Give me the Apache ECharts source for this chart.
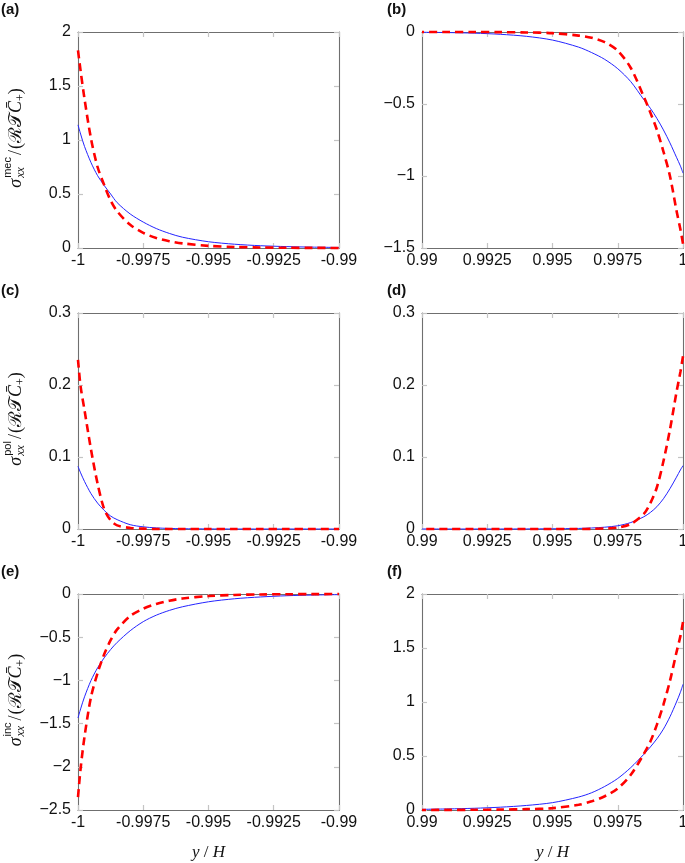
<!DOCTYPE html>
<html><head><meta charset="utf-8">
<script src="https://cdn.jsdelivr.net/npm/echarts@6/dist/echarts.min.js"></script>
<style>html,body{margin:0;padding:0;background:#fff}#c{width:685px;height:863px}</style>
</head><body><div id="c"></div>
<script>
// x positions (y/H) near each wall
const xLeft  = [-1, -0.9999, -0.99975, -0.9995, -0.99925, -0.999, -0.99875, -0.9985, -0.998, -0.9975, -0.997, -0.9965, -0.996, -0.995, -0.994, -0.993, -0.992, -0.991, -0.99];
const xRight = [1, 0.9999, 0.99975, 0.9995, 0.99925, 0.999, 0.99875, 0.9985, 0.998, 0.9975, 0.997, 0.9965, 0.996, 0.995, 0.994, 0.993, 0.992, 0.991, 0.99];

// (a) sigma_xx^mec, lower wall
const aBlue = [1.14, 1.055, 0.94, 0.79, 0.67, 0.58, 0.50, 0.42, 0.315, 0.24, 0.18, 0.135, 0.1, 0.058, 0.035, 0.021, 0.013, 0.008, 0.005];
const aRed  = [1.83, 1.64, 1.38, 1.01, 0.75, 0.585, 0.44, 0.34, 0.215, 0.14, 0.093, 0.063, 0.043, 0.02, 0.0095, 0.0045, 0.0022, 0.0011, 0.0005];
// (b) sigma_xx^mec, upper wall
const bBlue = [-0.98, -0.93, -0.87, -0.77, -0.68, -0.60, -0.53, -0.47, -0.345, -0.255, -0.19, -0.143, -0.105, -0.056, -0.03, -0.016, -0.008, -0.004, -0.002];
const bRed  = [-1.47, -1.37, -1.24, -1.0, -0.83, -0.68, -0.56, -0.45, -0.25, -0.13, -0.07, -0.04, -0.025, -0.008, -0.003, -0.001, 0, 0, 0];
// (c) sigma_xx^pol, lower wall
const cBlue = [0.087, 0.078, 0.066, 0.049, 0.036, 0.026, 0.018, 0.013, 0.006, 0.003, 0.0015, 0.0008, 0.0004, 0.0001, 0, 0, 0, 0, 0];
const cRed  = [0.235, 0.198, 0.165, 0.11, 0.063, 0.028, 0.012, 0.005, 0.0015, 0.0005, 0, 0, 0, 0, 0, 0, 0, 0, 0];
// (d) sigma_xx^pol, upper wall
const dBlue = [0.088, 0.082, 0.072, 0.056, 0.042, 0.031, 0.023, 0.017, 0.009, 0.0045, 0.0025, 0.0014, 0.0008, 0.0003, 0.0001, 0, 0, 0, 0];
const dRed  = [0.24, 0.218, 0.19, 0.138, 0.094, 0.058, 0.036, 0.021, 0.007, 0.002, 0.0007, 0.0002, 0, 0, 0, 0, 0, 0, 0];
// (e) sigma_xx^inc, lower wall
const eBlue = [-1.435, -1.33, -1.19, -1.0, -0.855, -0.74, -0.643, -0.56, -0.425, -0.32, -0.245, -0.19, -0.148, -0.09, -0.055, -0.034, -0.02, -0.012, -0.007];
const eRed  = [-2.35, -2.02, -1.65, -1.19, -0.915, -0.70, -0.535, -0.41, -0.255, -0.17, -0.115, -0.078, -0.052, -0.024, -0.011, -0.005, -0.0025, -0.0012, -0.0006];
// (f) sigma_xx^inc, upper wall
const fBlue = [1.164, 1.09, 1.0, 0.863, 0.749, 0.659, 0.584, 0.516, 0.393, 0.292, 0.218, 0.16, 0.12, 0.068, 0.042, 0.026, 0.016, 0.01, 0.006];
const fRed  = [1.74, 1.61, 1.46, 1.195, 0.976, 0.79, 0.634, 0.52, 0.326, 0.2, 0.127, 0.08, 0.048, 0.017, 0.008, 0.004, 0.002, 0.001, 0.0005];

const panelLabels = ['(a)', '(b)', '(c)', '(d)', '(e)', '(f)'];
const stressNames = ['mec', 'pol', 'inc'];
const xNameText = 'y / H';

const SERIF = '"Liberation Serif", "DejaVu Serif", serif';
const SANS = '"Liberation Sans", Arial, sans-serif';

const panels = [
  {left: 78,  top: 32,  side: 'L', yMin: 0,    yMax: 2,   yInt: 0.5, blue: aBlue, red: aRed},
  {left: 422, top: 32,  side: 'R', yMin: -1.5, yMax: 0,   yInt: 0.5, blue: bBlue, red: bRed},
  {left: 78,  top: 313, side: 'L', yMin: 0,    yMax: 0.3, yInt: 0.1, blue: cBlue, red: cRed},
  {left: 422, top: 313, side: 'R', yMin: 0,    yMax: 0.3, yInt: 0.1, blue: dBlue, red: dRed},
  {left: 78,  top: 594, side: 'L', yMin: -2.5, yMax: 0,   yInt: 0.5, blue: eBlue, red: eRed},
  {left: 422, top: 594, side: 'R', yMin: 0,    yMax: 2,   yInt: 0.5, blue: fBlue, red: fRed}
];
const W = 261, H = 216;

const fmtX = v => String(Math.round(v * 1e6) / 1e6);
const fmtY = v => String(Math.round(v * 1e6) / 1e6).replace('-', '\u2212');

const frameColor = '#6f6f6f';
const tickStyle = {show: true, inside: true, length: 5, lineStyle: {color: '#c4c4c4', width: 1.2}};
const lineAx = {show: true, onZero: false, lineStyle: {color: frameColor, width: 1.1}};
const labelStyle = {fontFamily: SANS, fontSize: 16, color: '#111'};

const grid = [], xAxis = [], yAxis = [], series = [];
panels.forEach((p, i) => {
  grid.push({left: p.left, top: p.top, width: W, height: H, outerBoundsMode: 'none', containLabel: false});
  const xr = p.side === 'L' ? {min: -1, max: -0.99} : {min: 0.99, max: 1};
  const xs = p.side === 'L' ? xLeft : xRight;
  xAxis.push({type: 'value', gridIndex: i, position: 'bottom', min: xr.min, max: xr.max, interval: 0.0025,
    axisLine: lineAx, axisTick: tickStyle, splitLine: {show: false},
    axisLabel: Object.assign({margin: 5, formatter: fmtX, showMinLabel: true, showMaxLabel: true}, labelStyle)});
  xAxis.push({type: 'value', gridIndex: i, position: 'top', min: xr.min, max: xr.max, interval: 0.0025,
    axisLine: lineAx, axisTick: tickStyle, splitLine: {show: false}, axisLabel: {show: false}});
  yAxis.push({type: 'value', gridIndex: i, position: 'left', min: p.yMin, max: p.yMax, interval: p.yInt,
    axisLine: lineAx, axisTick: tickStyle, splitLine: {show: false},
    axisLabel: Object.assign({margin: 7, formatter: fmtY, showMinLabel: true, showMaxLabel: true}, labelStyle)});
  yAxis.push({type: 'value', gridIndex: i, position: 'right', min: p.yMin, max: p.yMax, interval: p.yInt,
    axisLine: lineAx, axisTick: tickStyle, splitLine: {show: false}, axisLabel: {show: false}});
  series.push({type: 'line', xAxisIndex: 2 * i, yAxisIndex: 2 * i, data: xs.map((x, k) => [x, p.blue[k]]),
    symbol: 'none', smooth: 0.3, clip: false, lineStyle: {color: '#2424ff', width: 1}, z: 3});
  series.push({type: 'line', xAxisIndex: 2 * i, yAxisIndex: 2 * i, data: xs.map((x, k) => [x, p.red[k]]),
    symbol: 'none', smooth: 0.3, clip: false, lineStyle: {color: '#ff0000', width: 2.6, type: [8, 5]}, z: 4});
});

// graphic texts
const meas = document.createElement('canvas').getContext('2d');
function tw(font, t) { meas.font = font; return meas.measureText(t).width; }
function yTitle(sup, cy) {
  const fMain = '18px ' + SERIF, fIt = 'italic 18px ' + SERIF;
  const fSub = 'italic 12px ' + SERIF, fSup = '11px ' + SANS, fSmall = '12px ' + SERIF;
  const parts = [];
  let x = 0;
  const add = (text, font, dy, advance) => {
    parts.push({type: 'text', x: x, y: dy, style: {text: text, font: font, fill: '#111', verticalAlign: 'middle', align: 'left'}});
    const w = tw(font, text);
    if (advance !== false) x += w;
    return w;
  };
  add('\u03C3', fIt, 0);
  x += 1;
  const x0 = x;
  const w1 = add(sup, fSup, -8, false);
  const w2 = add('xx', fSub, 5, false);
  x = x0 + Math.max(w1, w2) + 2;
  add('/', fMain, 0);
  x += 1;
  add('(', fMain, 0);
  add('\u211B\uD835\uDCAF', fMain, 0);
  add('C\u0304', fIt, 0);
  add('+', fSmall, 5);
  add(')', fMain, 0);
  const total = x;
  return {type: 'group', x: 16, y: cy + total / 2, rotation: Math.PI / 2, children: parts};
}

const graphic = [];
panels.forEach((p, i) => {
  graphic.push({type: 'text', x: p.left === 78 ? 1 : 387, y: p.top - 30, style: {text: panelLabels[i], font: 'bold 15px ' + SANS, fill: '#111', verticalAlign: 'top'}});
});
[0, 2, 4].forEach((pi, k) => {
  graphic.push(yTitle(stressNames[k], panels[pi].top + H / 2 - 2));
});
[4, 5].forEach(pi => {
  const parts = xNameText.split(' / ');
  graphic.push({type: 'text', x: panels[pi].left + W / 2, y: 853, style: {
    text: '{i|' + parts[0] + '} / {i|' + parts[1] + '}',
    rich: {i: {fontStyle: 'italic', fontSize: 17, fontFamily: SERIF, fill: '#111'}},
    fontSize: 17, fontFamily: SERIF, fill: '#111', align: 'center', verticalAlign: 'middle'}});
});

const chart = echarts.init(document.getElementById('c'), null, {renderer: 'canvas'});
chart.setOption({animation: false, backgroundColor: '#fff', grid, xAxis, yAxis, series, graphic});
</script>
</body></html>
